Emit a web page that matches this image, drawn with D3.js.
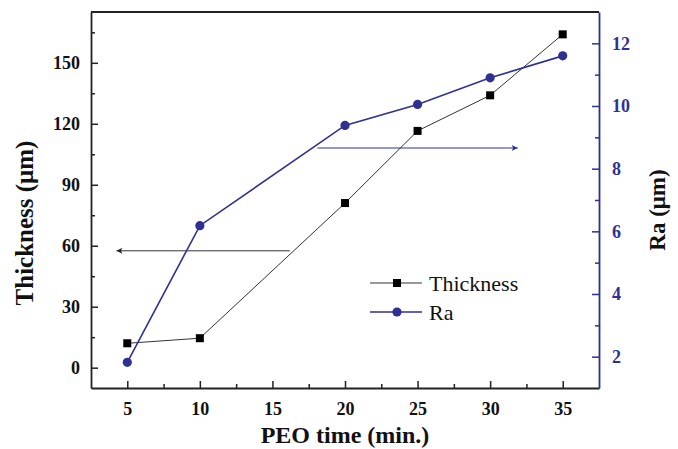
<!DOCTYPE html>
<html>
<head>
<meta charset="utf-8">
<script src="https://cdn.jsdelivr.net/npm/d3@7"></script>
<style>
  html, body { margin: 0; padding: 0; background: #fff; }
  svg { display: block; }
  text { font-family: "Liberation Serif", "Times New Roman", serif; }
</style>
</head>
<body>
<svg id="chart" width="678" height="449"></svg>
<script>
// ---- data ----
const peoTime = [5, 10, 20, 25, 30, 35];
const thickness = [12, 14.5, 81, 116.5, 134, 164];
const ra = [1.82, 6.18, 9.38, 10.05, 10.9, 11.6];

const xTicks = [5, 10, 15, 20, 25, 30, 35];
const xMinorTicks = [7.5, 12.5, 17.5, 22.5, 27.5, 32.5];
const yLeftTicks = [0, 30, 60, 90, 120, 150];
const yLeftMinorTicks = [15, 45, 75, 105, 135, 165];
const yRightTicks = [2, 4, 6, 8, 10, 12];
const yRightMinorTicks = [3, 5, 7, 9, 11];

const seriesNames = ["Thickness", "Ra"];
const xTitle = "PEO time (min.)";
const yLeftTitle = "Thickness (μm)";
const yRightTitle = "Ra (μm)";

// annotation arrows (data coordinates)
const leftArrowX = [16.2, 4.25];   // from -> to, on thickness axis
const leftArrowY = 57.5;
const rightArrowX = [18.1, 31.9];  // from -> to, on Ra axis
const rightArrowY = 8.66;

// ---- layout ----
const blue = "#2e3192";
const L = 91, R = 599, T = 12, B = 388;

const svg = d3.select("#chart");

const x = d3.scaleLinear().domain([2.5, 37.5]).range([L, R]);
const yL = d3.scaleLinear().domain([-10, 175]).range([B, T]);
const yR = d3.scaleLinear().domain([1, 13]).range([B, T]);

const defs = svg.append("defs");
function marker(id, color) {
  defs.append("marker")
    .attr("id", id)
    .attr("viewBox", "0 0 10 10")
    .attr("refX", 10).attr("refY", 5)
    .attr("markerWidth", 9).attr("markerHeight", 6)
    .attr("markerUnits", "userSpaceOnUse")
    .attr("orient", "auto")
    .append("path").attr("d", "M0,0 L10,5 L0,10 L2.5,5 Z").attr("fill", color);
}
marker("arrBlack", "#222");
marker("arrBlue", blue);

// top frame line
svg.append("line").attr("x1", L).attr("x2", R).attr("y1", T).attr("y2", T)
  .attr("stroke", "#222").attr("stroke-width", 1.8);

// bottom axis
const gx = svg.append("g").attr("transform", `translate(0,${B})`)
  .call(d3.axisBottom(x).tickValues(xTicks).tickSizeInner(-7).tickSizeOuter(0).tickPadding(14).tickFormat(d3.format("d")));
const gxm = svg.append("g").attr("transform", `translate(0,${B})`)
  .call(d3.axisBottom(x).tickValues(xMinorTicks).tickSizeInner(-4).tickSizeOuter(0).tickFormat(""));
gxm.select(".domain").remove();

// left axis
const gl = svg.append("g").attr("transform", `translate(${L},0)`)
  .call(d3.axisLeft(yL).tickValues(yLeftTicks).tickSizeInner(-7).tickSizeOuter(0).tickPadding(11).tickFormat(d3.format("d")));
const glm = svg.append("g").attr("transform", `translate(${L},0)`)
  .call(d3.axisLeft(yL).tickValues(yLeftMinorTicks).tickSizeInner(-4).tickSizeOuter(0).tickFormat(""));
glm.select(".domain").remove();

// right axis
const gr = svg.append("g").attr("transform", `translate(${R},0)`)
  .call(d3.axisRight(yR).tickValues(yRightTicks).tickSizeInner(-7).tickSizeOuter(0).tickPadding(13).tickFormat(d3.format("d")));
const grm = svg.append("g").attr("transform", `translate(${R},0)`)
  .call(d3.axisRight(yR).tickValues(yRightMinorTicks).tickSizeInner(-4).tickSizeOuter(0).tickFormat(""));
grm.select(".domain").remove();

[gx, gl].forEach(g => {
  g.select(".domain").attr("stroke", "#222").attr("stroke-width", 1.8);
  g.selectAll(".tick text").attr("fill", "#111").attr("font-size", 18).attr("font-weight", "bold")
    .style("font-family", "'Liberation Serif', serif");
});
[gx, gxm, gl, glm].forEach(g => g.selectAll(".tick line").attr("stroke", "#222").attr("stroke-width", 1.5));
gr.select(".domain").attr("stroke", blue).attr("stroke-width", 1.8);
[gr, grm].forEach(g => g.selectAll(".tick line").attr("stroke", blue).attr("stroke-width", 1.5));
gr.selectAll(".tick text").attr("fill", blue).attr("font-size", 18).attr("font-weight", "bold")
  .style("font-family", "'Liberation Serif', serif");

// axis titles
svg.append("text").attr("x", (L + R) / 2).attr("y", 443)
  .attr("text-anchor", "middle").attr("font-size", 24).attr("font-weight", "bold").attr("fill", "#111")
  .text(xTitle);
svg.append("text").attr("transform", `translate(33,223) rotate(-90)`)
  .attr("text-anchor", "middle").attr("font-size", 25).attr("font-weight", "bold").attr("fill", "#111")
  .text(yLeftTitle);
svg.append("text").attr("transform", `translate(665,210) rotate(-90)`)
  .attr("text-anchor", "middle").attr("font-size", 23).attr("font-weight", "bold").attr("fill", "#111")
  .text(yRightTitle);

// annotation arrows
svg.append("line")
  .attr("x1", x(leftArrowX[0])).attr("x2", x(leftArrowX[1]))
  .attr("y1", yL(leftArrowY)).attr("y2", yL(leftArrowY))
  .attr("stroke", "#333").attr("stroke-width", 1).attr("marker-end", "url(#arrBlack)");
svg.append("line")
  .attr("x1", x(rightArrowX[0])).attr("x2", x(rightArrowX[1]))
  .attr("y1", yR(rightArrowY)).attr("y2", yR(rightArrowY))
  .attr("stroke", blue).attr("stroke-width", 1).attr("marker-end", "url(#arrBlue)");

// series
const thickData = peoTime.map((t, i) => [t, thickness[i]]);
const raData = peoTime.map((t, i) => [t, ra[i]]);

svg.append("path").datum(thickData)
  .attr("fill", "none").attr("stroke", "#333").attr("stroke-width", 1)
  .attr("d", d3.line().x(d => x(d[0])).y(d => yL(d[1])));
svg.append("path").datum(raData)
  .attr("fill", "none").attr("stroke", blue).attr("stroke-width", 1.6)
  .attr("d", d3.line().x(d => x(d[0])).y(d => yR(d[1])));

const sq = 8;
svg.selectAll("rect.thk").data(thickData).join("rect").attr("class", "thk")
  .attr("x", d => x(d[0]) - sq / 2).attr("y", d => yL(d[1]) - sq / 2)
  .attr("width", sq).attr("height", sq).attr("fill", "#000");
svg.selectAll("circle.ra").data(raData).join("circle").attr("class", "ra")
  .attr("cx", d => x(d[0])).attr("cy", d => yR(d[1])).attr("r", 4.6).attr("fill", blue);

// legend
const lg = svg.append("g");
const legX1 = 370, legX2 = 422, legMid = 397, legText = 429;
const legY = [283, 312];
lg.append("line").attr("x1", legX1).attr("x2", legX2).attr("y1", legY[0]).attr("y2", legY[0])
  .attr("stroke", "#333").attr("stroke-width", 1);
lg.append("rect").attr("x", legMid - sq / 2).attr("y", legY[0] - sq / 2).attr("width", sq).attr("height", sq).attr("fill", "#000");
lg.append("line").attr("x1", legX1).attr("x2", legX2).attr("y1", legY[1]).attr("y2", legY[1])
  .attr("stroke", blue).attr("stroke-width", 1.6);
lg.append("circle").attr("cx", legMid).attr("cy", legY[1]).attr("r", 4.6).attr("fill", blue);
lg.selectAll("text.leg").data(seriesNames).join("text").attr("class", "leg")
  .attr("x", legText).attr("y", (d, i) => legY[i] + 8)
  .attr("font-size", 22).attr("fill", "#111").text(d => d);
</script>
</body>
</html>
